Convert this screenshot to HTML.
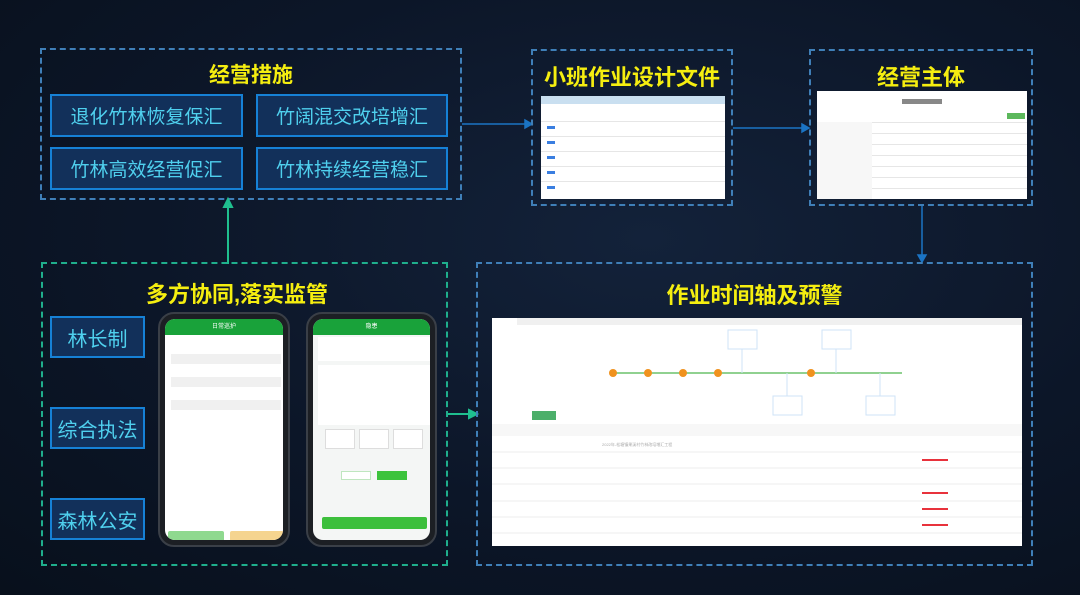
<!DOCTYPE html>
<html><head><meta charset="utf-8"><style>
*{margin:0;padding:0;box-sizing:border-box}
body{width:1080px;height:595px;overflow:hidden;background:radial-gradient(ellipse at 60% 40%,#13223a 0%,#0c1628 55%,#08101c 100%);font-family:"Liberation Sans","Noto Sans CJK SC",sans-serif;position:relative}
.a{position:absolute}
.dash{position:absolute;border:2px dashed #3f7fb8}
.dg{border-color:#1fae8c}
.t{position:absolute;color:#f5ee10;font-weight:bold;text-align:center;font-size:21px;white-space:nowrap}
.ib{position:absolute;background:#12305a;border:2px solid #1681d6;color:#4fd0ee;font-size:19px;display:flex;align-items:center;justify-content:center}
.lb{font-size:20px}
.white{background:#fff;position:absolute}
.hl{position:absolute;background:#e6e6e6;height:1px}
.vl{position:absolute;background:#e6e6e6;width:1px}
.tx{position:absolute;font-size:4px;color:#999}
.phone{position:absolute;background:#1c1f24;border-radius:16px;border:2px solid #3a3f47}
.scr{position:absolute;left:5px;top:5px;right:5px;bottom:5px;background:#fff;border-radius:10px;overflow:hidden}
.gh{position:absolute;left:0;right:0;top:0;height:16px;background:#19a23a;color:#fff;font-size:6px;text-align:center;line-height:16px}
.fld{position:absolute;background:#f0f0f0;height:10px}
</style></head><body>

<!-- Box 1 -->
<div class="dash" style="left:40px;top:48px;width:422px;height:152px"></div>
<div class="t" style="left:40px;top:59px;width:422px">经营措施</div>
<div class="ib" style="left:50px;top:94px;width:193px;height:43px">退化竹林恢复保汇</div>
<div class="ib" style="left:256px;top:94px;width:192px;height:43px">竹阔混交改培增汇</div>
<div class="ib" style="left:50px;top:147px;width:193px;height:43px">竹林高效经营促汇</div>
<div class="ib" style="left:256px;top:147px;width:192px;height:43px">竹林持续经营稳汇</div>

<!-- arrows -->
<svg class="a" style="left:0;top:0" width="1080" height="595">
<g stroke="#1b74c4" stroke-width="1.5" fill="#1b74c4">
<line x1="462" y1="124" x2="526" y2="124"/><polygon points="532,124 525,120 525,128"/>
<line x1="733" y1="128" x2="803" y2="128"/><polygon points="809,128 802,124 802,132"/>
<line x1="922" y1="206" x2="922" y2="255"/><polygon points="922,262 918,255 926,255"/>
</g>
<g stroke="#1fbf8f" stroke-width="2" fill="#1fbf8f">
<line x1="228" y1="264" x2="228" y2="206"/><polygon points="228,199 224,207 232,207"/>
<line x1="448" y1="414" x2="470" y2="414"/><polygon points="477,414 469,410 469,418"/>
</g>
</svg>

<!-- Box 2 -->
<div class="dash" style="left:531px;top:49px;width:202px;height:157px"></div>
<div class="t" style="left:531px;top:60px;width:202px;font-size:22px">小班作业设计文件</div>
<div class="white" style="left:541px;top:96px;width:184px;height:103px">
 <div class="a" style="left:0;top:0;width:184px;height:8px;background:#c9dff0"></div>
 <div class="a" style="left:0;top:8px;width:184px;height:17px;background:#fff"></div>
 <div class="hl" style="left:0;top:25px;width:184px"></div>
 <div class="hl" style="left:0;top:40px;width:184px"></div>
 <div class="hl" style="left:0;top:55px;width:184px"></div>
 <div class="hl" style="left:0;top:70px;width:184px"></div>
 <div class="hl" style="left:0;top:85px;width:184px"></div>
 <div class="a" style="left:6px;top:30px;width:8px;height:3px;background:#3a7ee0"></div>
 <div class="a" style="left:6px;top:45px;width:8px;height:3px;background:#3a7ee0"></div>
 <div class="a" style="left:6px;top:60px;width:8px;height:3px;background:#3a7ee0"></div>
 <div class="a" style="left:6px;top:75px;width:8px;height:3px;background:#3a7ee0"></div>
 <div class="a" style="left:6px;top:90px;width:8px;height:3px;background:#3a7ee0"></div>
</div>

<!-- Box 3 -->
<div class="dash" style="left:809px;top:49px;width:224px;height:157px"></div>
<div class="t" style="left:809px;top:60px;width:224px;font-size:22px">经营主体</div>
<div class="white" style="left:817px;top:91px;width:210px;height:108px">
 <div class="a" style="left:85px;top:8px;width:40px;height:5px;background:#888"></div>
 <div class="a" style="left:190px;top:22px;width:18px;height:6px;background:#5cb85c"></div>
 <div class="hl" style="left:0;top:31px;width:210px"></div>
 <div class="hl" style="left:0;top:42px;width:210px"></div>
 <div class="hl" style="left:0;top:53px;width:210px"></div>
 <div class="hl" style="left:0;top:64px;width:210px"></div>
 <div class="hl" style="left:0;top:75px;width:210px"></div>
 <div class="hl" style="left:0;top:86px;width:210px"></div>
 <div class="hl" style="left:0;top:97px;width:210px"></div>
 <div class="a" style="left:0;top:31px;width:55px;height:77px;background:#f7f7f7"></div>
</div>

<!-- Box 4 -->
<div class="dash dg" style="left:41px;top:262px;width:407px;height:304px"></div>
<div class="t" style="left:41px;top:277px;width:392px;font-size:22px">多方协同,落实监管</div>
<div class="ib lb" style="left:50px;top:316px;width:95px;height:42px">林长制</div>
<div class="ib lb" style="left:50px;top:407px;width:95px;height:42px">综合执法</div>
<div class="ib lb" style="left:50px;top:498px;width:95px;height:42px">森林公安</div>

<div class="phone" style="left:158px;top:312px;width:132px;height:235px">
 <div class="scr"><div class="gh">日常巡护</div>
  <div class="fld" style="left:6px;top:35px;width:110px"></div>
  <div class="fld" style="left:6px;top:58px;width:110px"></div>
  <div class="fld" style="left:6px;top:81px;width:110px"></div>
  <div class="a" style="left:3px;top:212px;width:56px;height:12px;background:#8fd98f;border-radius:2px"></div>
  <div class="a" style="left:65px;top:212px;width:56px;height:12px;background:#f5d48f;border-radius:2px"></div>
 </div></div>
<div class="phone" style="left:306px;top:312px;width:131px;height:235px">
 <div class="scr" style="background:#f4f6f5"><div class="gh">隐患</div>
  <div class="a" style="left:5px;top:18px;width:112px;height:24px;background:#fff"></div>
  <div class="a" style="left:5px;top:46px;width:112px;height:60px;background:#fff"></div>
  <div class="a" style="left:12px;top:110px;width:30px;height:20px;border:1px solid #ddd;background:#fff"></div>
  <div class="a" style="left:46px;top:110px;width:30px;height:20px;border:1px solid #ddd;background:#fff"></div>
  <div class="a" style="left:80px;top:110px;width:30px;height:20px;border:1px solid #ddd;background:#fff"></div>
  <div class="a" style="left:28px;top:152px;width:30px;height:9px;border:1px solid #bfe6bf;background:#fff"></div>
  <div class="a" style="left:64px;top:152px;width:30px;height:9px;background:#3cc33c"></div>
  <div class="a" style="left:9px;top:198px;width:105px;height:12px;background:#3cbf3c;border-radius:2px"></div>
 </div></div>

<!-- Box 5 -->
<div class="dash" style="left:476px;top:262px;width:557px;height:304px"></div>
<div class="t" style="left:476px;top:278px;width:557px;font-size:22px">作业时间轴及预警</div>
<div class="white" style="left:492px;top:318px;width:530px;height:228px">
 <div class="a" style="left:0;top:0;width:530px;height:7px;background:#f0f0f0"></div>
 <div class="a" style="left:0;top:0;width:25px;height:7px;background:#fff"></div>
 <svg class="a" style="left:0;top:0" width="530" height="228">
  <line x1="120" y1="55" x2="410" y2="55" stroke="#6cc26c" stroke-width="1.5"/>
  <g fill="#f0921e"><circle cx="121" cy="55" r="4"/><circle cx="156" cy="55" r="4"/><circle cx="191" cy="55" r="4"/><circle cx="226" cy="55" r="4"/><circle cx="319" cy="55" r="4"/></g>
  <g stroke="#cfe3f7" fill="#fff"><rect x="236" y="12" width="29" height="19"/><rect x="330" y="12" width="29" height="19"/><rect x="281" y="78" width="29" height="19"/><rect x="374" y="78" width="29" height="19"/>
  <line x1="250" y1="31" x2="250" y2="55"/><line x1="344" y1="31" x2="344" y2="55"/><line x1="295" y1="55" x2="295" y2="78"/><line x1="388" y1="55" x2="388" y2="78"/></g>
  <rect x="40" y="93" width="24" height="9" fill="#4caf6a"/>
  <rect x="0" y="106" width="530" height="12" fill="#f7f7f7"/>
  <g stroke="#eee"><line x1="0" y1="134" x2="530" y2="134"/><line x1="0" y1="150" x2="530" y2="150"/><line x1="0" y1="166" x2="530" y2="166"/><line x1="0" y1="183" x2="530" y2="183"/><line x1="0" y1="199" x2="530" y2="199"/><line x1="0" y1="215" x2="530" y2="215"/></g>
  <g fill="#e8323c"><rect x="430" y="141" width="26" height="2"/><rect x="430" y="174" width="26" height="2"/><rect x="430" y="190" width="26" height="2"/><rect x="430" y="206" width="26" height="2"/></g>
  <g fill="#aaa" font-size="4"><text x="110" y="128">2022年-松塘镇果溪村竹林改培增汇工程</text></g>
 </svg>
</div>
</body></html>
